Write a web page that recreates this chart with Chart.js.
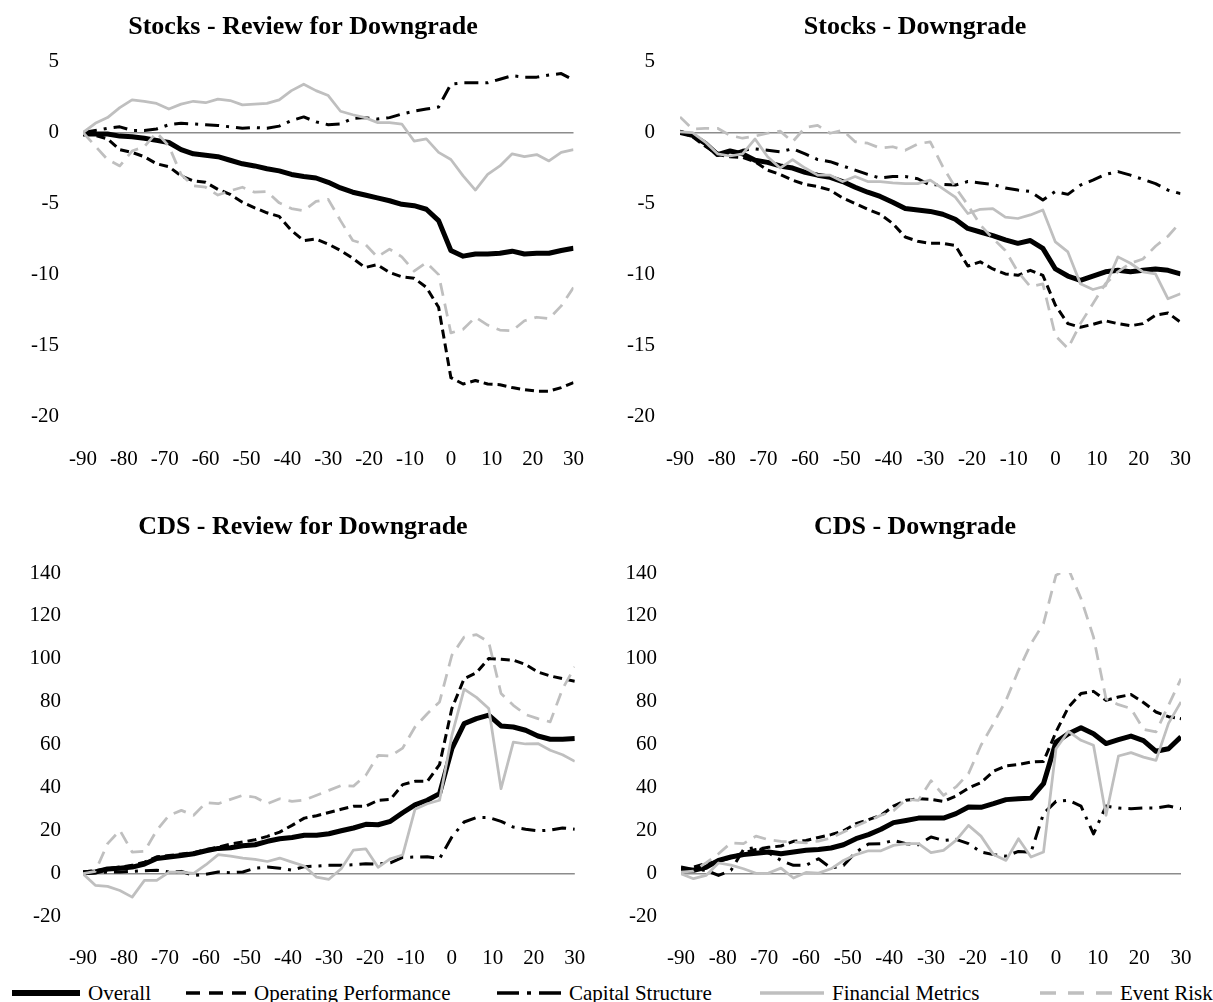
<!DOCTYPE html>
<html>
<head>
<meta charset="utf-8">
<title>Stocks and CDS around rating events</title>
<script src="https://cdn.jsdelivr.net/npm/chart.js@4.4.0/dist/chart.umd.min.js"></script>
<style>
  body { margin: 0; background: #fff; }
  #wrap { position: relative; width: 1213px; height: 1002px; overflow: hidden; background: #fff;
          font-family: "Liberation Serif", "Times New Roman", serif; color: #000; }
  #wrap canvas { position: absolute; }
  .leg { position: absolute; top: 980px; height: 26px; display: flex; align-items: center;
         font-size: 21px; white-space: nowrap; }
  .leg svg { margin-right: 8px; }
</style>
</head>
<body>
<div id="wrap">
  <canvas id="stocksReview" width="606" height="470" style="left:0;top:0"></canvas>
  <canvas id="stocksDown" width="607" height="470" style="left:606px;top:0"></canvas>
  <canvas id="cdsReview" width="606" height="480" style="left:0;top:490px"></canvas>
  <canvas id="cdsDown" width="607" height="480" style="left:606px;top:490px"></canvas>

  <div class="leg" style="left:12px"><svg width="68" height="10"><line x1="0" y1="5" x2="68" y2="5" stroke="#000" stroke-width="6"/></svg>Overall</div>
  <div class="leg" style="left:186px"><svg width="60" height="10"><line x1="0" y1="5" x2="60" y2="5" stroke="#000" stroke-width="3.5" stroke-dasharray="14 9"/></svg>Operating Performance</div>
  <div class="leg" style="left:497px"><svg width="64" height="10"><line x1="0" y1="5" x2="64" y2="5" stroke="#000" stroke-width="3.5" stroke-dasharray="22 8 4 8"/></svg>Capital Structure</div>
  <div class="leg" style="left:760px"><svg width="64" height="10"><line x1="0" y1="5" x2="64" y2="5" stroke="#bfbfbf" stroke-width="3.5"/></svg>Financial Metrics</div>
  <div class="leg" style="left:1040px"><svg width="72" height="10"><line x1="0" y1="5" x2="72" y2="5" stroke="#bfbfbf" stroke-width="3.5" stroke-dasharray="16 12"/></svg>Event Risk</div>
</div>

<script>
// event days (every third day)
const days = [-90, -87, -84, -81, -78, -75, -72, -69, -66, -63, -60, -57, -54, -51, -48, -45, -42, -39, -36, -33,
  -30, -27, -24, -21, -18, -15, -12, -9, -6, -3, 0, 3, 6, 9, 12, 15, 18, 21, 24, 27, 30];

const seriesNames = ["Overall", "Operating Performance", "Capital Structure", "Financial Metrics", "Event Risk"];

// Stocks - Review for Downgrade
const stocksReviewOverall = [-0.1, -0.1, -0.1, -0.25, -0.3, -0.4, -0.55, -0.7, -1.2, -1.5, -1.6, -1.7, -1.95, -2.2, -2.35, -2.55, -2.7, -2.95, -3.1, -3.2,
  -3.5, -3.9, -4.2, -4.4, -4.6, -4.8, -5.05, -5.15, -5.4, -6.2, -8.3, -8.7, -8.55, -8.55, -8.5, -8.35, -8.55, -8.5, -8.5, -8.3, -8.15];
const stocksReviewOperating = [0, -0.2, -0.45, -1.2, -1.4, -1.7, -2.2, -2.4, -3.05, -3.4, -3.5, -4.0, -4.35, -4.9, -5.3, -5.65, -5.9, -6.9, -7.6, -7.5,
  -7.85, -8.3, -8.85, -9.5, -9.3, -9.85, -10.15, -10.25, -10.9, -12.3, -17.25, -17.7, -17.45, -17.7, -17.75, -17.95, -18.1, -18.2, -18.2, -17.95, -17.6];
const stocksReviewCapital = [0, 0.15, 0.3, 0.4, 0.15, 0.15, 0.25, 0.55, 0.65, 0.6, 0.55, 0.5, 0.4, 0.3, 0.35, 0.3, 0.45, 0.85, 1.1, 0.75,
  0.55, 0.6, 1.0, 1.05, 0.95, 1.05, 1.3, 1.5, 1.65, 1.8, 3.4, 3.5, 3.5, 3.5, 3.75, 4.0, 3.9, 3.9, 4.05, 4.15, 3.7];
const stocksReviewFinancial = [0, 0.65, 1.05, 1.75, 2.3, 2.2, 2.05, 1.65, 2.0, 2.2, 2.1, 2.35, 2.25, 1.95, 2.0, 2.05, 2.3, 2.95, 3.4, 2.95,
  2.6, 1.5, 1.25, 1.05, 0.7, 0.7, 0.6, -0.6, -0.45, -1.4, -1.9, -3.05, -4.05, -2.95, -2.35, -1.5, -1.7, -1.55, -2.0, -1.4, -1.2];
const stocksReviewEvent = [0, -0.95, -1.9, -2.35, -1.3, -1.0, 0.0, -0.95, -2.95, -3.75, -3.85, -4.4, -4.1, -3.85, -4.2, -4.15, -4.95, -5.35, -5.5, -4.85,
  -4.7, -6.2, -7.6, -7.85, -8.75, -8.2, -8.75, -9.75, -9.15, -10.0, -14.1, -13.85, -13.0, -13.55, -13.9, -13.95, -13.25, -13.0, -13.1, -12.2, -10.9];

// Stocks - Downgrade
const stocksDownOverall = [0, -0.2, -0.75, -1.55, -1.3, -1.5, -1.95, -2.1, -2.35, -2.5, -2.8, -3.0, -3.15, -3.45, -3.85, -4.2, -4.5, -4.9, -5.35, -5.45,
  -5.55, -5.75, -6.1, -6.75, -7.0, -7.25, -7.55, -7.8, -7.6, -8.15, -9.6, -10.1, -10.4, -10.1, -9.8, -9.7, -9.8, -9.7, -9.6, -9.7, -9.95];
const stocksDownOperating = [0.05, -0.3, -0.95, -1.55, -1.7, -1.75, -2.05, -2.65, -2.95, -3.35, -3.65, -3.8, -4.05, -4.6, -5.0, -5.4, -5.75, -6.4, -7.35, -7.65,
  -7.8, -7.8, -7.95, -9.4, -9.1, -9.6, -9.95, -10.05, -9.7, -10.05, -12.15, -13.45, -13.7, -13.5, -13.25, -13.45, -13.6, -13.45, -12.85, -12.7, -13.35];
const stocksDownCapital = [0.1, -0.2, -0.9, -1.45, -1.55, -1.25, -1.15, -1.25, -1.35, -1.15, -1.5, -1.9, -2.05, -2.35, -2.65, -2.95, -3.2, -3.1, -3.1, -3.25,
  -3.7, -3.65, -3.7, -3.45, -3.55, -3.65, -3.9, -4.05, -4.15, -4.75, -4.15, -4.35, -3.7, -3.35, -2.95, -2.75, -3.0, -3.3, -3.6, -4.05, -4.3];
const stocksDownFinancial = [0.05, 0, -0.65, -1.5, -1.65, -1.5, -0.45, -1.7, -2.5, -1.9, -2.5, -3.0, -3.0, -3.45, -3.1, -3.45, -3.45, -3.55, -3.6, -3.6,
  -3.35, -3.95, -4.55, -5.7, -5.4, -5.35, -5.95, -6.05, -5.8, -5.45, -7.7, -8.4, -10.65, -11.05, -10.8, -8.75, -9.2, -9.8, -9.95, -11.7, -11.35];
const stocksDownEvent = [1.1, 0.25, 0.3, 0.3, -0.2, -0.4, -0.25, -0.05, 0.1, -0.65, 0.35, 0.5, -0.05, 0.15, -0.65, -0.75, -1.1, -1.0, -1.25, -0.8,
  -0.65, -2.4, -3.85, -5.1, -6.5, -7.45, -8.3, -9.8, -10.85, -10.65, -14.3, -15.2, -13.45, -12.05, -10.65, -9.8, -9.2, -8.9, -8.0, -7.3, -6.3];

// CDS - Review for Downgrade
const cdsReviewOverall = [0.5, 0.8, 2.2, 2.6, 3.1, 4.5, 7.1, 7.8, 8.5, 9.3, 10.7, 11.8, 12.1, 13.0, 13.5, 15.1, 16.3, 16.9, 17.9, 17.9,
  18.6, 20.0, 21.3, 23.0, 22.8, 24.4, 28.4, 32.1, 34.2, 37.3, 58.2, 69.9, 72.2, 73.8, 68.8, 68.3, 66.8, 64.1, 62.6, 62.6, 62.9];
const cdsReviewOperating = [0.8, 1.4, 2.3, 3.1, 3.9, 5.4, 7.9, 8.5, 9.2, 9.8, 11.3, 12.4, 13.8, 14.8, 15.8, 17.4, 19.4, 22.5, 25.9, 27.0,
  28.5, 30.0, 31.4, 31.4, 34.2, 34.6, 41.5, 43.0, 43.0, 50.8, 76.9, 90.8, 93.6, 100.2, 99.8, 99.4, 97.4, 93.9, 92.1, 90.8, 89.6];
const cdsReviewCapital = [0, 0.5, 0.8, 0.8, 1.1, 1.4, 1.6, 0.8, 1.1, -0.8, -0.2, 0.8, 0.5, 0.8, 2.6, 3.1, 2.6, 1.7, 3.3, 3.6,
  3.9, 3.9, 4.2, 4.7, 4.5, 5.1, 7.6, 7.8, 7.9, 7.0, 17.1, 24.1, 26.2, 26.2, 24.4, 21.7, 20.7, 20.0, 20.3, 21.3, 20.7];
const cdsReviewFinancial = [0, -5.4, -5.9, -7.8, -10.9, -3.1, -3.1, 0.8, 0.8, 0.2, 4.2, 8.9, 8.2, 7.3, 6.7, 5.7, 7.3, 5.4, 3.6, -1.6,
  -2.6, 2.3, 11.0, 11.6, 3.0, 7.0, 8.7, 30.0, 32.6, 34.2, 64.4, 85.9, 82.1, 76.9, 39.6, 61.3, 60.4, 60.6, 57.5, 55.4, 52.3];
const cdsReviewEvent = [0, 1.1, 14.0, 20.2, 10.1, 10.4, 20.2, 27.2, 29.5, 27.2, 33.1, 32.6, 34.6, 36.5, 35.6, 32.6, 34.9, 33.7, 34.3, 36.5,
  38.8, 41.1, 40.8, 45.8, 55.1, 54.8, 58.5, 68.3, 74.5, 80.0, 101.7, 110.2, 111.3, 107.9, 83.9, 78.4, 74.1, 72.2, 70.7, 86.0, 96.3];

// CDS - Downgrade
const cdsDownOverall = [1.6, 1.6, 3.0, 6.2, 7.8, 8.9, 9.5, 10.1, 9.3, 10.1, 10.9, 11.3, 12.0, 13.5, 16.3, 18.2, 20.7, 23.8, 24.8, 25.9,
  25.9, 25.9, 28.0, 31.1, 30.9, 32.6, 34.5, 34.9, 35.2, 41.9, 61.3, 65.2, 68.0, 65.2, 60.6, 62.4, 64.1, 62.0, 57.0, 58.2, 63.7];
const cdsDownOperating = [0.8, 3.1, 4.7, 5.7, 7.5, 9.8, 11.3, 12.3, 12.9, 15.1, 15.5, 16.9, 18.2, 20.0, 23.3, 25.2, 27.2, 31.5, 34.2, 34.9,
  34.6, 33.7, 36.2, 39.9, 42.4, 47.7, 50.2, 50.8, 52.0, 52.3, 66.0, 77.6, 83.9, 84.9, 80.7, 82.3, 83.4, 79.7, 75.3, 73.1, 72.2];
const cdsDownCapital = [3.1, 2.0, 1.6, -0.8, 1.6, 11.3, 12.3, 9.8, 6.2, 3.9, 3.9, 7.0, 2.6, 3.9, 10.1, 13.8, 14.0, 15.5, 14.0, 13.5,
  17.1, 15.5, 16.0, 14.0, 10.1, 8.9, 8.2, 10.4, 10.0, 28.0, 33.7, 34.2, 31.5, 18.5, 31.5, 30.6, 30.3, 30.6, 30.6, 31.5, 30.3];
const cdsDownFinancial = [0, -2.3, -0.8, 5.0, 4.0, 2.3, 0.2, 0.3, 2.6, -2.0, 0.6, 0.3, 2.3, 6.2, 8.9, 10.7, 10.7, 13.2, 14.0, 14.0,
  9.8, 10.9, 15.5, 22.5, 17.5, 8.9, 6.2, 16.3, 7.8, 10.1, 58.2, 66.3, 62.1, 59.8, 27.2, 54.8, 56.4, 54.3, 52.8, 70.0, 80.0];
const cdsDownEvent = [0.8, 1.2, 5.1, 9.3, 14.4, 14.0, 17.5, 15.8, 15.1, 14.8, 14.4, 15.2, 16.6, 19.4, 22.2, 24.7, 27.2, 29.3, 34.6, 34.2,
  43.3, 36.5, 40.4, 46.6, 59.8, 69.9, 80.7, 94.7, 107.1, 116.5, 139.0, 141.8, 128.1, 110.2, 81.5, 78.7, 76.9, 67.2, 66.0, 78.4, 90.8];

const FONT = "'Liberation Serif', 'Times New Roman', serif";
const GRAY = "#bfbfbf";

// line look per series, same order as seriesNames
const lineStyles = [
  { color: "#000", width: 5, dash: [] },
  { color: "#000", width: 3, dash: [9, 5] },
  { color: "#000", width: 3, dash: [14, 7, 3, 7] },
  { color: GRAY, width: 2.75, dash: [] },
  { color: GRAY, width: 2.75, dash: [13, 8] },
];

// moves the title sideways so it sits where the original one does
const titleShift = {
  id: "titleShift",
  afterLayout(chart, args, opts) {
    const t = chart.titleBlock;
    if (t && opts.dx) {
      t.left += opts.dx;
      t.right += opts.dx;
    }
  },
};

function makeChart(id, title, series, yMin, yMax, yStep, geo) {
  const ctx = document.getElementById(id).getContext("2d");
  return new Chart(ctx, {
    type: "line",
    data: {
      datasets: series.map((vals, i) => ({
        label: seriesNames[i],
        data: days.map((d, j) => ({ x: d, y: vals[j] })),
        borderColor: lineStyles[i].color,
        borderWidth: lineStyles[i].width,
        borderDash: lineStyles[i].dash,
        borderJoinStyle: "round",
        pointRadius: 0,
        tension: 0,
        fill: false,
        order: 5 - i,
      })),
    },
    options: {
      responsive: false,
      animation: false,
      devicePixelRatio: 1,
      layout: { padding: { left: geo.padL, right: geo.padR, top: 0, bottom: 0 } },
      plugins: {
        legend: { display: false },
        tooltip: { enabled: false },
        titleShift: { dx: geo.titleDx },
        title: {
          display: true,
          text: title,
          color: "#000",
          font: { family: FONT, size: 26, weight: "bold" },
          padding: { top: geo.titleTop, bottom: geo.titleBottom },
        },
      },
      scales: {
        x: {
          type: "linear",
          min: -90,
          max: 30,
          ticks: { stepSize: 10, color: "#000", font: { family: FONT, size: 21 }, padding: geo.xPad, maxRotation: 0, autoSkip: false },
          grid: { display: false },
          border: { display: false },
          afterFit: (s) => { s.height = geo.xH; },
        },
        y: {
          min: yMin,
          max: yMax,
          ticks: { stepSize: yStep, color: "#000", font: { family: FONT, size: 21 }, padding: geo.yPad },
          grid: {
            drawTicks: false,
            lineWidth: 1.5,
            color: (c) => (c.tick && c.tick.value === 0 ? "#8c8c8c" : "rgba(0,0,0,0)"),
          },
          border: { display: false },
          afterFit: (s) => { s.width = geo.yW; },
        },
      },
    },
    plugins: [titleShift],
  });
}

makeChart("stocksReview", "Stocks - Review for Downgrade",
  [stocksReviewOverall, stocksReviewOperating, stocksReviewCapital, stocksReviewFinancial, stocksReviewEvent],
  -20, 5, 5, { padL: 0, padR: 21, yW: 83, yPad: 24, xH: 53.3, xPad: 22, titleTop: 12, titleBottom: 18.3, titleDx: 10.5 });

makeChart("stocksDown", "Stocks - Downgrade",
  [stocksDownOverall, stocksDownOperating, stocksDownCapital, stocksDownFinancial, stocksDownEvent],
  -20, 5, 5, { padL: 0, padR: 32, yW: 74, yPad: 25, xH: 53.3, xPad: 22, titleTop: 12, titleBottom: 18.3, titleDx: 21.5 });

makeChart("cdsReview", "CDS - Review for Downgrade",
  [cdsReviewOverall, cdsReviewOperating, cdsReviewCapital, cdsReviewFinancial, cdsReviewEvent],
  -20, 140, 20, { padL: 0, padR: 21, yW: 83, yPad: 22, xH: 53.3, xPad: 20.7, titleTop: 21.4, titleBottom: 30.4, titleDx: 10.5 });

makeChart("cdsDown", "CDS - Downgrade",
  [cdsDownOverall, cdsDownOperating, cdsDownCapital, cdsDownFinancial, cdsDownEvent],
  -20, 140, 20, { padL: 0, padR: 32, yW: 75, yPad: 24, xH: 53.3, xPad: 20.7, titleTop: 21.4, titleBottom: 30.4, titleDx: 21.5 });
</script>
</body>
</html>
